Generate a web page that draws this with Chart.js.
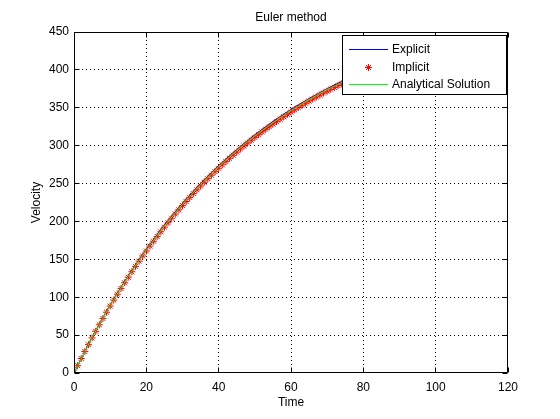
<!DOCTYPE html>
<html>
<head>
<meta charset="utf-8">
<script src="https://cdn.jsdelivr.net/npm/chart.js@4.4.0/dist/chart.umd.min.js"></script>
<style>
  html, body { margin: 0; padding: 0; background: #fff; overflow: hidden; }
  #wrap { width: 560px; height: 419px; }
</style>
</head>
<body>
<div id="wrap"><canvas id="c" width="560" height="419"></canvas></div>
<script>
// ── DATA ──────────────────────────────────────────────────────────────────
// implicit Euler: one marker per second, t = 0 .. 110
const implicitStep = 1;
const implicitV = [
  0, 9.6, 19.1, 28.3, 37.4, 46.3, 55.0, 63.6, 72.0, 80.2,
  88.3, 96.2, 104.0, 111.6, 119.1, 126.4, 133.6, 140.7, 147.6, 154.4,
  161.0, 167.5, 173.9, 180.2, 186.4, 192.4, 198.3, 204.2, 209.8, 215.4,
  220.9, 226.3, 231.6, 236.7, 241.8, 246.8, 251.7, 256.4, 261.1, 265.7,
  270.2, 274.7, 279.0, 283.3, 287.4, 291.5, 295.6, 299.5, 303.4, 307.2,
  310.9, 314.5, 318.1, 321.6, 325.0, 328.4, 331.7, 335.0, 338.1, 341.3,
  344.3, 347.3, 350.3, 353.2, 356.0, 358.8, 361.5, 364.2, 366.8, 369.4,
  371.9, 374.4, 376.8, 379.2, 381.5, 383.8, 386.0, 388.2, 390.4, 392.5,
  394.6, 396.6, 398.6, 400.6, 402.5, 404.4, 406.2, 408.0, 409.8, 411.5,
  413.3, 414.9, 416.6, 418.2, 419.8, 421.3, 422.9, 424.3, 425.8, 427.2,
  428.7, 430.0, 431.4, 432.7, 434.0, 435.3, 436.5, 437.8, 439.0, 440.2,
  441.3
];
// explicit Euler and analytical solution, drawn as lines
const lineTime    = [0, 5, 10, 15, 20, 25, 30, 35, 40, 45, 50, 55, 60, 65, 70, 75, 80, 85, 90, 95, 100, 105, 110];
const explicitV   = [0, 47.2, 89.9, 128.6, 163.6, 195.4, 224.1, 250.2, 273.8, 295.1, 314.5, 332.0, 347.9, 362.3, 375.3, 387.1, 397.8, 407.5, 416.2, 424.2, 431.4, 437.9, 443.8];
const analyticalV = [0, 46.7, 89.1, 127.5, 162.3, 193.9, 222.5, 248.5, 272.0, 293.3, 312.7, 330.2, 346.1, 360.5, 373.6, 385.4, 396.2, 405.9, 414.7, 422.7, 430.0, 436.6, 442.5];

const xTicks = [0, 20, 40, 60, 80, 100, 120];
const yTicks = [0, 50, 100, 150, 200, 250, 300, 350, 400, 450];
const legendLabels = ['Explicit', 'Implicit', 'Analytical Solution'];

// ── STYLE ─────────────────────────────────────────────────────────────────
const FONT = '"Liberation Sans", Arial, Helvetica, sans-serif';
const BLUE = '#0000ff', RED = '#ff0000', GREEN = '#00ff00';

Chart.defaults.font.family = FONT;
Chart.defaults.font.size = 12;
Chart.defaults.color = '#000';

function star(ctx, x, y, r) {
  const d = r * Math.SQRT1_2;
  ctx.moveTo(x - r, y); ctx.lineTo(x + r, y);
  ctx.moveTo(x, y - r); ctx.lineTo(x, y + r);
  ctx.moveTo(x - d, y - d); ctx.lineTo(x + d, y + d);
  ctx.moveTo(x - d, y + d); ctx.lineTo(x + d, y - d);
}

// matlab-like frame: dotted grid, inward ticks, box, legend, titles
const matlabFrame = {
  id: 'matlabFrame',
  beforeDatasetsDraw(chart) {
    const { ctx, chartArea: a, scales: { x, y } } = chart;
    ctx.save();
    ctx.strokeStyle = '#000';
    ctx.lineWidth = 1;
    ctx.setLineDash([1, 3]);
    ctx.beginPath();
    xTicks.slice(1, -1).forEach(v => {
      const px = Math.floor(x.getPixelForValue(v)) + 0.5;
      ctx.moveTo(px, a.top); ctx.lineTo(px, a.bottom);
    });
    yTicks.slice(1, -1).forEach(v => {
      const py = Math.floor(y.getPixelForValue(v)) + 0.5;
      ctx.moveTo(a.left, py); ctx.lineTo(a.right, py);
    });
    ctx.stroke();
    ctx.restore();
  },
  afterDraw(chart) {
    const { ctx, chartArea: a, scales: { x, y } } = chart;
    const L = a.left + 0.5, R = a.right - 0.5, T = a.top + 0.5, B = a.bottom - 0.5;
    ctx.save();
    ctx.strokeStyle = '#000';
    ctx.lineWidth = 1;
    ctx.beginPath();
    ctx.moveTo(L, T); ctx.lineTo(R, T); ctx.lineTo(R, B); ctx.lineTo(L, B); ctx.closePath();
    // inward ticks
    xTicks.forEach(v => {
      const px = Math.floor(x.getPixelForValue(v)) + 0.5;
      ctx.moveTo(px, B); ctx.lineTo(px, B - 5);
      ctx.moveTo(px, T); ctx.lineTo(px, T + 5);
    });
    yTicks.forEach(v => {
      const py = Math.floor(y.getPixelForValue(v)) + 0.5;
      ctx.moveTo(L, py); ctx.lineTo(L + 5, py);
      ctx.moveTo(R, py); ctx.lineTo(R - 5, py);
    });
    ctx.stroke();

    // titles
    ctx.fillStyle = '#000';
    ctx.font = '12px ' + FONT;
    ctx.textAlign = 'center';
    ctx.textBaseline = 'middle';
    const cx = (a.left + a.right) / 2;
    ctx.fillText('Euler method', cx, 18);
    ctx.fillText('Time', cx, 403);
    ctx.save();
    ctx.translate(37, (a.top + a.bottom) / 2);
    ctx.rotate(-Math.PI / 2);
    ctx.fillText('Velocity', 0, 0);
    ctx.restore();

    // legend box
    const bx = 342, by = 35, bw = 164, bh = 59;
    ctx.fillStyle = '#fff';
    ctx.fillRect(bx, by, bw, bh);
    ctx.strokeStyle = '#000';
    ctx.strokeRect(bx + 0.5, by + 0.5, bw, bh);
    const rows = [49.5, 67.5, 84.5];
    ctx.beginPath(); ctx.strokeStyle = BLUE;
    ctx.moveTo(349, rows[0]); ctx.lineTo(388, rows[0]); ctx.stroke();
    ctx.beginPath(); ctx.strokeStyle = RED;
    star(ctx, 368.5, rows[1], 3.5); ctx.stroke();
    ctx.beginPath(); ctx.strokeStyle = GREEN;
    ctx.moveTo(349, rows[2]); ctx.lineTo(388, rows[2]); ctx.stroke();
    ctx.fillStyle = '#000';
    ctx.textAlign = 'left';
    legendLabels.forEach((t, i) => ctx.fillText(t, 392, rows[i]));
    ctx.restore();
  }
};

// ── CHART ─────────────────────────────────────────────────────────────────
const implicitPts   = implicitV.map((v, i) => ({ x: i * implicitStep, y: v }));
const explicitPts   = explicitV.map((v, i) => ({ x: lineTime[i], y: v }));
const analyticalPts = analyticalV.map((v, i) => ({ x: lineTime[i], y: v }));

new Chart(document.getElementById('c'), {
  type: 'scatter',
  data: {
    datasets: [
      { label: legendLabels[0], data: explicitPts, showLine: true, borderColor: BLUE, borderWidth: 1, pointRadius: 0, tension: 0, order: 2 },
      { label: legendLabels[1], data: implicitPts, showLine: false, borderColor: RED, backgroundColor: RED, pointStyle: 'star', pointRadius: 3.5, pointBorderWidth: 1, order: 1 },
      { label: legendLabels[2], data: analyticalPts, showLine: true, borderColor: GREEN, borderWidth: 1, pointRadius: 0, tension: 0, order: 0 },
    ],
  },
  options: {
    responsive: false,
    animation: false,
    events: [],
    layout: { padding: { top: 32, right: 52, left: 0, bottom: 0 } },
    plugins: { legend: { display: false }, tooltip: { enabled: false }, title: { display: false } },
    scales: {
      x: {
        type: 'linear', min: 0, max: 120,
        afterBuildTicks: s => { s.ticks = xTicks.map(v => ({ value: v })); },
        afterFit: s => { s.height = 46; },
        ticks: { padding: 7, maxRotation: 0, color: '#000', font: { size: 12 } },
        grid: { display: false, drawTicks: false },
        border: { display: false },
      },
      y: {
        type: 'linear', min: 0, max: 450,
        afterBuildTicks: s => { s.ticks = yTicks.map(v => ({ value: v })); },
        afterFit: s => { s.width = 74; },
        ticks: { padding: 5, color: '#000', font: { size: 12 } },
        grid: { display: false, drawTicks: false },
        border: { display: false },
      },
    },
  },
  plugins: [matlabFrame],
});
</script>
</body>
</html>
